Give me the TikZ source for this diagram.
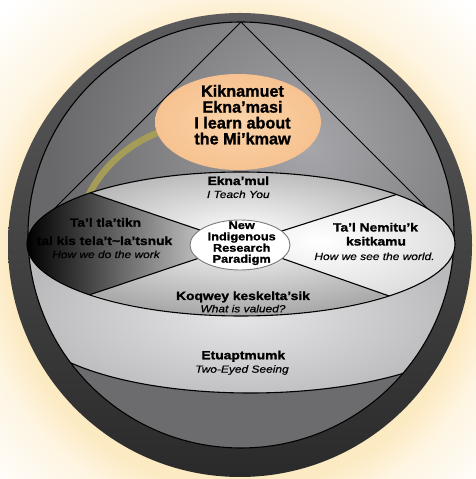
\documentclass[tikz,border=0pt]{standalone}
\usepackage{fontspec}
\setmainfont{Liberation Sans}
\newfontfamily\heavysans[FakeStretch=1.16, FakeBold=1.3]{Liberation Sans Bold}
\newfontfamily\heavybig[FakeBold=1.3]{Liberation Sans Bold}
\newfontfamily\slantsans[FakeStretch=1.16, FakeBold=0.5]{Liberation Sans Italic}
\usetikzlibrary{calc}

% palette
\definecolor{cream}{HTML}{FCEAC2}
\definecolor{creamlt}{HTML}{FEF5E2}
\definecolor{ringtop}{HTML}{5C5C5E}
\definecolor{ringbot}{HTML}{2A2A2A}
\definecolor{updark}{HTML}{68686A}
\definecolor{uplight}{HTML}{A6A6AA}
\definecolor{lowbase}{HTML}{BABABC}
\definecolor{lowlight}{HTML}{E6E6E8}
\definecolor{botdark}{HTML}{6C6C6E}
\definecolor{botlight}{HTML}{B8B8BC}
\definecolor{ellgray}{HTML}{A8A8A8}
\definecolor{rightgray}{HTML}{CCCCCC}
\definecolor{leftlight}{HTML}{D0D0D0}
\definecolor{peachlt}{HTML}{FAD4AA}
\definecolor{peachdk}{HTML}{F7C290}
\definecolor{olivearc}{HTML}{A59C58}
\definecolor{ovalline}{HTML}{7A7A7A}

% soft cream glow behind the disc
\pgfdeclareradialshading{glow}{\pgfpoint{0bp}{0bp}}{%
  color(0bp)=(cream); color(17bp)=(cream); color(19.5bp)=(creamlt);
  color(25bp)=(white); color(50bp)=(white)}

\tikzset{
  edge/.style={draw=black, line width=1.1pt},
  thinedge/.style={draw=black, line width=0.9pt},
  lbl/.style={font=\heavysans\fontsize{11.9}{13}\selectfont, anchor=base, inner sep=0pt},
  sub/.style={font=\slantsans\fontsize{10.3}{12}\selectfont, anchor=base, inner sep=0pt},
  ctr/.style={font=\heavysans\fontsize{11}{11.3}\selectfont, anchor=base, inner sep=0pt},
  big/.style={font=\heavybig\fontsize{16.2}{16}\selectfont, anchor=base, inner sep=0pt},
}

\begin{document}
\begin{tikzpicture}[x=1pt,y=1pt]
\useasboundingbox (0,0) rectangle (476,479);
\fill[white] (0,0) rectangle (476,479);
\shade[shading=glow] (240,222) circle (340);

% outer dark ring
\shade[top color=ringtop, bottom color=ringbot] (240,234) circle (232);

% inner disc and its bands
\begin{scope}
  \clip (241,244) circle (213);
  \fill[updark] (241,244) circle (213);
  \shade[inner color=uplight, outer color=updark] (310,330) circle (260);
  % light band under the ellipse
  \fill[lowbase] (0,0) rectangle (476,235);
  \shade[inner color=lowlight, outer color=lowbase] (242,165) ellipse (220 and 95);
  % lowest band
  \shade[left color=botdark, middle color=botlight, right color=botdark]
    (55,124) .. controls (140,76) and (330,74) .. (430,115) -- (430,0) -- (55,0) -- cycle;
  \draw[edge] (55,124) .. controls (140,76) and (330,74) .. (430,115);
  % triangle
  \draw[thinedge] (28,244) -- (241,457) -- (454,244);
  % olive arc
  \draw[olivearc, line width=6.5pt] (205,224) ++(156:131) arc[start angle=156, end angle=100, radius=131];
\end{scope}
\draw[edge] (241,244) circle (213);

% peach ellipse
\shade[inner color=peachlt, outer color=peachdk] (238,357) ellipse (83 and 48);

% central ellipse with its four sectors
\coordinate (c) at (241,235);
\coordinate (tl) at (88,287);
\coordinate (bl) at (86,183);
\coordinate (tr) at (398,285);
\coordinate (br) at (392,182);
\begin{scope}
  \clip (241,235) ellipse (214 and 72);
  \shade[inner color=white, outer color=ellgray] (241,245) ellipse (220 and 82);
  \begin{scope}
    \clip (c) -- ($(c)!1.3!(tr)$) -- (470,320) -- (470,150) -- ($(c)!1.3!(br)$) -- cycle;
    \shade[inner color=white, outer color=rightgray] (320,238) ellipse (210 and 95);
  \end{scope}
  \begin{scope}
    \clip (c) -- ($(c)!1.3!(tl)$) -- (10,320) -- (10,150) -- ($(c)!1.3!(bl)$) -- cycle;
    \shade[left color=black, right color=leftlight] (27,150) rectangle (215,320);
  \end{scope}
  \draw[edge] (c) -- ($(c)!1.2!(tl)$);
  \draw[edge] (c) -- ($(c)!1.2!(bl)$);
  \draw[edge] (c) -- ($(c)!1.2!(tr)$);
  \draw[edge] (c) -- ($(c)!1.2!(br)$);
\end{scope}
\draw[edge] (241,235) ellipse (214 and 72);

% centre oval
\filldraw[fill=white, draw=ovalline, line width=0.9pt] (240,234) ellipse (50 and 25);

% labels
\node[big] (k1) at (242.5,382.3) {Kiknamuet};
\node[big] (k2) at (242.5,366.4) {Ekna’masi};
\node[big] (k3) at (242.5,350.5) {I learn about};
\node[big] (k4) at (242.5,334.6) {the Mi’kmaw};

\node[lbl] (t1) at (238.3,294) {Ekna’mul};
\node[sub] (t2) at (238.3,281) {I Teach You};

\node[lbl] (l1) at (105.5,252.3) {Ta’l tla’tikn};
\node[lbl] (l2) at (104.5,234) {tal kis tela’t\textasciitilde la’tsnuk};
\node[sub] (l3) at (106,221) {How we do the work};

\node[lbl] (r1) at (375.5,247.5) {Ta’l Nemitu’k};
\node[lbl] (r2) at (376,233.5) {ksitkamu};
\node[sub] (r3) at (374.5,219) {How we see the world.};

\node[ctr] (n1) at (241.7,250) {New};
\node[ctr] (n2) at (241.7,238.7) {Indigenous};
\node[ctr] (n3) at (241.7,227.3) {Research};
\node[ctr] (n4) at (241.7,216.3) {Paradigm};

\node[lbl] (b1) at (243,179) {Koqwey keskelta’sik};
\node[sub] (b2) at (243,166.7) {What is valued?};

\node[lbl] (e1) at (243.3,119.7) {Etuaptmumk};
\node[sub] (e2) at (242,106.3) {Two-Eyed Seeing};
\end{tikzpicture}
\end{document}
